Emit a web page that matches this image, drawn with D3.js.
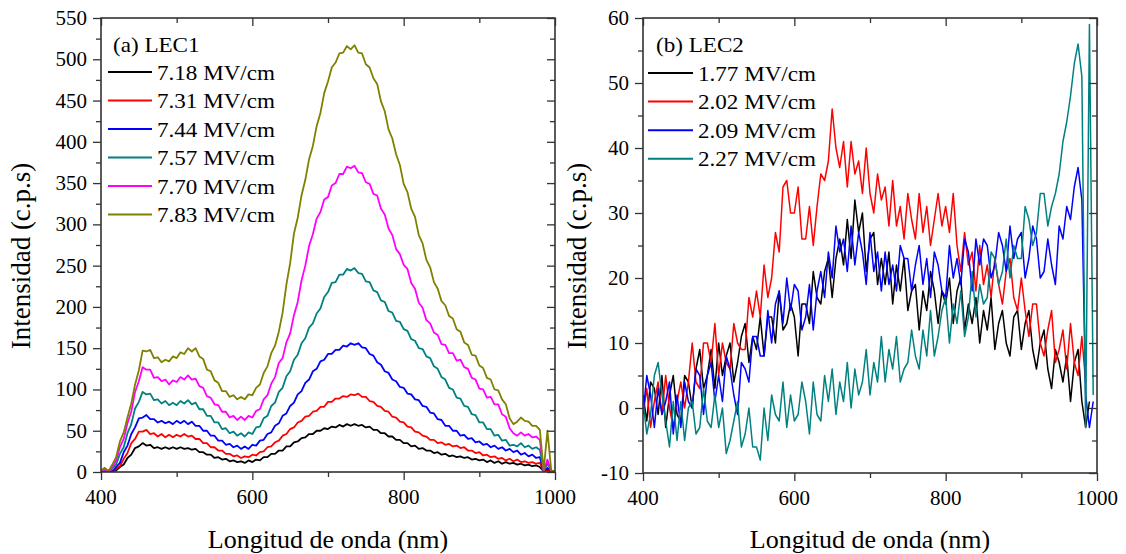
<!DOCTYPE html>
<html><head><meta charset="utf-8">
<script src="https://cdn.jsdelivr.net/npm/d3@7"></script>
</head><body style="margin:0;background:#fff;font-family:'Liberation Serif'">
<svg id="s" width="1126" height="554"></svg>
<script>
// ---------- DATA ----------
const wlStart = 400, wlStep = 5;           // wavelength grid (nm), 400..1000
const xTicks = [400, 600, 800, 1000];
const xMinorTicks = [500, 700, 900];

// Panel (a) LEC1
const lec1Title = "(a) LEC1";
const lec1Labels = ["7.18 MV/cm", "7.31 MV/cm", "7.44 MV/cm", "7.57 MV/cm", "7.70 MV/cm", "7.83 MV/cm"];
const lec1Colors = ["#000000", "#ff0000", "#0000ff", "#008080", "#ff00ff", "#808000"];
const lec1YTicks = [0,50,100,150,200,250,300,350,400,450,500,550];
const lec1YMinor = [25,75,125,175,225,275,325,375,425,475,525];
const lec1_718 = [0,0,0,1,2,6,9,17,21,29, 31,35,32,33,29,30,28,30,28,30, 28,30,28,29,27,28,24,24,21,21,
  17,18,15,16,13,14,12,13,11,14, 12,15,14,18,18,22,22,26,26,31, 31,36,37,41,42,46,46,50,50,53,
  52,55,54,57,55,58,56,58,56,57, 54,55,51,51,47,47,43,43,39,39, 35,35,31,32,28,29,26,26,23,24,
  21,22,19,20,18,19,17,18,15,16, 14,15,12,14,11,13,10,12,10,11, 9,10,8,9,7,8,6,1,2,1, 0];
const lec1_731 = [0,0,1,0,4,7,16,23,35,40, 49,49,51,46,47,43,46,42,45,42, 45,43,46,43,44,40,40,35,35,30,
  30,26,26,22,22,19,20,17,19,18, 21,20,24,25,30,31,36,38,44,46, 52,54,60,62,67,68,73,74,79,79,
  85,85,89,89,92,91,94,93,95,91, 91,86,85,80,79,74,73,67,66,61, 60,55,54,49,48,44,43,39,39,35,
  36,33,34,31,32,29,30,26,26,23, 24,20,21,18,19,16,17,14,16,13, 15,12,13,11,12,10,11,1,3,1, 0];
const lec1_744 = [1,0,2,0,6,11,24,32,46,54, 65,66,69,64,64,60,62,59,61,58, 62,59,62,58,61,56,56,50,50,44,
  44,38,38,33,34,30,32,28,31,28, 33,32,38,39,46,48,56,59,68,71, 80,84,94,98,108,112,122,125,134,136,
  143,143,148,148,153,152,156,154,156,151, 150,143,141,133,130,122,120,112,110,103, 102,95,94,88,87,80,79,72,71,64,
  63,56,56,50,50,44,45,40,41,36, 37,33,34,30,32,28,30,26,28,24, 26,21,23,19,21,17,18,1,5,1, 0];
const lec1_757 = [1,2,0,4,9,22,30,47,58,77, 85,97,94,95,87,88,83,86,81,84, 81,86,83,87,82,84,76,76,68,68,
  60,60,52,53,47,49,44,47,43,48, 46,54,55,65,68,80,84,97,102,116, 122,136,142,156,162,175,180,192,198,212,
  218,229,230,239,239,246,244,247,241,240, 231,230,220,218,208,206,195,193,183,182, 173,171,161,159,150,149,140,138,128,125,
  115,112,102,100,90,89,80,79,70,69, 60,60,52,52,44,45,38,39,32,33, 31,35,30,32,28,30,27,1,10,1, 0];
const lec1_770 = [1,3,0,6,14,30,40,59,73,97, 110,127,124,124,114,115,110,112,106,111, 109,115,112,117,112,113,104,102,92,90,
  82,81,73,73,66,68,63,67,63,68, 66,74,76,88,93,107,115,132,138,157, 168,190,206,232,250,274,288,307,315,330,
  333,347,350,361,361,370,368,371,363,362, 351,349,337,335,319,312,295,287,270,264, 251,246,229,222,205,199,184,180,169,166,
  155,154,144,144,135,136,127,125,114,112, 101,100,90,91,82,82,70,67,53,47, 44,48,44,46,42,43,39,1,15,1, 0];
const lec1_783 = [2,5,1,9,18,37,48,66,83,106, 123,147,146,148,138,139,133,136,134,140, 138,145,143,150,146,150,140,137,124,122,
  111,108,98,98,91,93,88,91,88,94, 93,102,106,120,128,144,153,170,193,227, 253,289,308,335,354,379,395,419,435,459,
  473,490,496,507,508,516,512,517,508,507, 494,490,477,470,449,437,415,404,385,372, 349,339,319,309,287,277,257,248,230,222,
  207,202,189,186,173,170,157,154,142,141, 129,126,114,112,100,99,88,82,65,58, 61,66,62,61,56,56,51,2,50,2, 0];

// Panel (b) LEC2
const lec2Title = "(b) LEC2";
const lec2Labels = ["1.77 MV/cm", "2.02 MV/cm", "2.09 MV/cm", "2.27 MV/cm"];
const lec2Colors = ["#000000", "#ff0000", "#0000ff", "#008080"];
const lec2YTicks = [-10,0,10,20,30,40,50,60];
const lec2YMinor = [-5,5,15,25,35,45,55];
const lec2_177 = [2,-2,4,3,-1,5,-3,2,5,-1, -2,5,4,0,6,9,3,5,9,3, 10,5,8,10,4,7,11,13,7,11,
  9,14,8,14,14,10,18,12,13,16, 14,8,16,16,13,21,17,16,21,23, 17,23,26,22,29,23,32,27,30,21,
  26,27,19,23,19,24,16,22,18,23, 15,18,19,12,18,15,21,18,13,18, 16,20,13,18,20,12,16,13,17,10,
  15,12,17,9,13,15,10,8,14,15, 9,13,15,9,6,10,12,6,3,9, 7,4,8,1,7,9,1,-3,1,null, null];
const lec2_202 = [-1,3,-3,1,4,-1,5,0,-3,1, 4,0,4,10,4,3,10,10,7,13, 5,10,7,6,13,10,9,9,17,14,
  18,14,22,17,20,27,24,34,35,30, 30,34,26,26,31,25,31,36,35,38, 46,40,37,41,34,41,36,38,33,40,
  33,30,36,32,34,28,35,28,31,26, 33,29,26,33,27,31,25,29,33,28, 31,27,33,25,21,27,22,24,18,25,
  19,22,17,23,19,16,21,23,17,15, 20,15,11,16,16,10,8,12,15,7, 9,12,6,13,7,5,11,4,null,null, null];
const lec2_209 = [-1,5,2,-3,3,-1,1,4,-4,2, -3,4,1,0,6,5,-1,5,7,1, 5,1,8,6,2,-1,7,6,4,11,
  11,8,8,15,10,16,18,13,20,15, 19,18,12,14,19,12,18,21,17,24, 20,28,24,26,21,28,22,27,24,19,
  27,21,24,18,24,19,22,18,25,23, 23,18,22,25,19,23,17,24,22,18, 17,25,20,23,19,26,24,18,26,22,
  26,25,20,22,27,25,21,28,23,26, 27,20,23,28,26,20,21,26,22,19, 28,26,31,29,34,37,32,2,-3,1, null];
const lec2_227 = [1,-4,-1,5,7,2,-2,-6,1,-5, 1,-5,0,1,-4,-3,3,-2,-3,2, -3,0,-7,-5,-2,1,-6,-4,0,-6,
  -6,-8,0,-5,2,-1,-2,4,-3,2, -2,-1,4,1,-4,4,-1,-2,5,1, 6,-1,4,1,7,0,6,2,4,9,
  2,7,4,11,4,9,6,11,4,6, 7,12,8,6,12,8,15,8,11,15, 17,10,16,13,18,11,14,21,14,19,
  16,17,24,23,19,21,26,20,25,23, 23,31,29,25,27,33,33,28,31,33, 36,41,44,48,53,56,51,-3,59,2, null];

const xTitle = "Longitud de onda (nm)";
const yTitle = "Intensidad (c.p.s)";

// ---------- DRAW ----------
const svg = d3.select("#s");
const AX = "#333";
const textJobs = [];

function addText(x, y, str, size, opts) {
  textJobs.push(Object.assign({x, y, str, size}, opts || {}));
}

function panel(cfg) {
  const g = svg.append("g");
  const x = d3.scaleLinear().domain([400, 1000]).range(cfg.xr);
  const y = d3.scaleLinear().domain(cfg.yd).range(cfg.yr);
  const [x0, x1] = cfg.xr, [yb, yt] = cfg.yr;

  const clipId = "clip" + cfg.id;
  g.append("clipPath").attr("id", clipId).append("rect")
    .attr("x", x0).attr("y", yt - 2).attr("width", x1 - x0).attr("height", yb - yt + 2);

  const line = d3.line().defined(d => d[1] != null).x(d => x(d[0])).y(d => y(d[1]));
  const dg = g.append("g").attr("clip-path", `url(#${clipId})`);
  cfg.series.forEach((s, i) => {
    const pts = s.map((v, k) => [wlStart + k * wlStep, v]);
    dg.append("path").datum(pts).attr("d", line)
      .attr("fill", "none").attr("stroke", cfg.colors[i])
      .attr("stroke-width", cfg.lw).attr("stroke-linejoin", "round");
  });

  function style(a) {
    a.select(".domain").remove();
    a.selectAll("text").remove();
    a.selectAll("line").attr("stroke", AX).attr("stroke-width", 1.3);
  }
  g.append("g").attr("transform", `translate(0,${yb})`)
    .call(d3.axisBottom(x).tickValues(xTicks).tickSize(8).tickFormat("")).call(style);
  g.append("g").attr("transform", `translate(0,${yb})`)
    .call(d3.axisBottom(x).tickValues(xMinorTicks).tickSize(5).tickFormat("")).call(style);
  g.append("g").attr("transform", `translate(0,${yt})`)
    .call(d3.axisTop(x).tickValues(xTicks).tickSize(-8).tickFormat("")).call(style);
  g.append("g").attr("transform", `translate(0,${yt})`)
    .call(d3.axisTop(x).tickValues(xMinorTicks).tickSize(-5).tickFormat("")).call(style);
  g.append("g").attr("transform", `translate(${x0},0)`)
    .call(d3.axisLeft(y).tickValues(cfg.yTicks).tickSize(8).tickFormat("")).call(style);
  g.append("g").attr("transform", `translate(${x0},0)`)
    .call(d3.axisLeft(y).tickValues(cfg.yMinor).tickSize(5).tickFormat("")).call(style);
  g.append("g").attr("transform", `translate(${x1},0)`)
    .call(d3.axisRight(y).tickValues(cfg.yTicks).tickSize(-8).tickFormat("")).call(style);
  g.append("g").attr("transform", `translate(${x1},0)`)
    .call(d3.axisRight(y).tickValues(cfg.yMinor).tickSize(-5).tickFormat("")).call(style);

  g.append("rect").attr("x", x0).attr("y", yt).attr("width", x1 - x0).attr("height", yb - yt)
    .attr("fill", "none").attr("stroke", AX).attr("stroke-width", 1.6);

  xTicks.forEach(t => addText(x(t), yb + 32, String(t), 21, {anchor: "middle"}));
  cfg.yTicks.forEach(t => addText(x0 - 14, y(t) + 7, String(t), 21, {anchor: "end"}));

  addText((x0 + x1) / 2, 548, xTitle, 26, {anchor: "middle"});
  addText(cfg.ytx, cfg.yty, yTitle, 27, {anchor: "middle", rotate: true});

  const L = cfg.leg;
  addText(L.tx, L.ty, cfg.title, 21, {sx: 1.1});
  cfg.labels.forEach((lab, i) => {
    const ly = L.y0 + i * L.dy;
    g.append("line").attr("x1", L.lx0).attr("x2", L.lx1).attr("y1", ly).attr("y2", ly)
      .attr("stroke", cfg.colors[i]).attr("stroke-width", 2);
    addText(L.textX, ly + 7.5, lab, 21, {sx: 1.1});
  });
}

panel({
  id: "a", xr: [101, 555], yd: [0, 550], yr: [472, 18],
  yTicks: lec1YTicks, yMinor: lec1YMinor, lw: 1.8,
  series: [lec1_718, lec1_731, lec1_744, lec1_757, lec1_770, lec1_783],
  colors: lec1Colors, labels: lec1Labels, title: lec1Title,
  ytx: 30, yty: 256,
  leg: {tx: 113, ty: 52, y0: 72, dy: 28.5, lx0: 108, lx1: 152, textX: 157}
});
panel({
  id: "b", xr: [643, 1097], yd: [-10, 60], yr: [473, 18],
  yTicks: lec2YTicks, yMinor: lec2YMinor, lw: 1.5,
  series: [lec2_177, lec2_202, lec2_209, lec2_227],
  colors: lec2Colors, labels: lec2Labels, title: lec2Title,
  ytx: 586, yty: 256,
  leg: {tx: 656, ty: 52, y0: 73, dy: 28.6, lx0: 648, lx1: 693, textX: 698}
});

textJobs.forEach(t => {
  const el = svg.append("text")
    .style("font-family", "'Liberation Serif'")
    .style("font-size", t.size + "px")
    .text(t.str);
  if (t.anchor) el.attr("text-anchor", t.anchor);
  if (t.rotate) el.attr("transform", `translate(${t.x},${t.y}) rotate(-90)`);
  else if (t.sx) el.attr("transform", `translate(${t.x},${t.y}) scale(${t.sx},1)`);
  else el.attr("x", t.x).attr("y", t.y);
});
</script>
</body></html>
